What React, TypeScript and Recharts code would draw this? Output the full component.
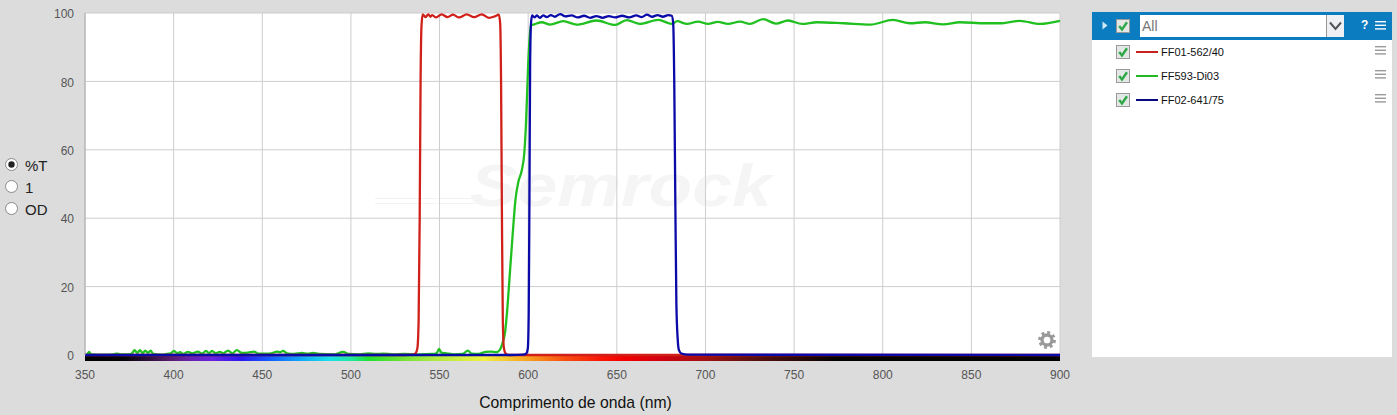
import React from "react";
import { LineChart, Line, XAxis, YAxis, CartesianGrid, ReferenceArea } from "recharts";

const xTicks = [350, 400, 450, 500, 550, 600, 650, 700, 750, 800, 850, 900];
const yTicks = [0, 20, 40, 60, 80, 100];
const xTitle = "Comprimento de onda (nm)";
const legendNames = ["FF01-562/40", "FF593-Di03", "FF02-641/75"];
const legendColors = ["#c8201a", "#22b822", "#0a0a80"];
const radioLabels = ["%T", "1", "OD"];

const redPoints: [number, number][] = [
  [350, 0], [530, 0], [535, 0.1], [536.5, 0.5], [537.5, 2], [538.2, 10], [538.8, 40], [539.3, 80], [539.8, 96],
  [540.5, 99.6], [542, 98.8], [543.7, 99.6], [544.8, 98.9], [545.9, 99.4], [548, 98.7], [551.2, 99.6], [554.5, 98.8],
  [557.6, 99.5], [561, 98.7], [565.3, 99.6], [569.5, 98.8], [573.8, 99.6], [578, 98.6], [581, 99], [583.4, 99.5],
  [584.2, 97], [584.7, 80], [585.2, 40], [585.7, 10], [586.3, 2], [587.3, 0.4], [589, 0], [900, 0],
];

const greenPoints: [number, number][] = [
  [350, 0.1], [351.2, 0.2], [352.3, 0.9], [353.4, 0.2], [360, 0.1], [366, 0.2], [368, 0.4], [370, 0.2], [375, 0.2],
  [376.5, 0.5], [378, 1.4], [379.5, 0.6], [381, 1.4], [382.5, 0.5], [384, 1.3], [385.5, 0.6], [387, 1.3], [388.5, 0.3],
  [393, 0.1], [397, 0.4], [398.5, 0.5], [400.2, 1.2], [402, 0.5], [403.6, 0.8], [405.5, 0.3], [408, 0.9], [410.5, 0.5],
  [413.7, 1], [416, 0.4], [418.3, 1.2], [420, 0.5], [421.6, 1.2], [423.8, 0.5], [426, 0.9], [428, 0.5], [430.7, 1.3],
  [433, 0.5], [435.7, 1.4], [438.5, 0.6], [442, 0.7], [445.3, 1], [448, 0.4], [452, 0.4], [455, 0.5], [458.3, 1], [460, 0.8],
  [461.7, 1.2], [464, 0.5], [468, 0.3], [472.4, 0.6], [475.5, 0.4], [478.6, 0.6], [482, 0.3], [491, 0.2], [495.5, 0.9],
  [499, 0.3], [505, 0.2], [509.6, 0.5], [514, 0.3], [518, 0.4], [524, 0.2], [530, 0.3], [538, 0.2], [546, 0.3], [548.5, 0.6],
  [549.7, 1.8], [551, 0.7], [554, 0.5], [558, 0.2], [563, 0.3], [566, 1.3], [568, 0.4], [572, 0.3], [576, 0.9], [579, 1],
  [582, 0.8], [584, 1.5], [585.6, 3.6], [587, 6.8], [588.3, 14], [589.8, 24.9], [591.3, 35.6], [592.8, 45.3], [594.5, 50.7],
  [596.4, 54], [597.8, 59], [598.8, 68], [600, 85], [601, 94], [601.6, 96.4], [603.5, 96.7], [607.6, 97.3], [612.3, 96.6],
  [619.8, 97.6], [627.4, 96.6], [638.6, 97.8], [649, 96.5], [655.6, 97.9], [663, 96.8], [673.4, 98], [681, 96.8], [684, 97.6],
  [689.6, 96.8], [695.8, 97.5], [701.4, 96.8], [707, 97.4], [712.7, 96.8], [719.5, 97.5], [725, 96.8], [732.5, 98.2],
  [739.8, 96.9], [746.6, 97.8], [754.5, 96.8], [763, 97.3], [778, 97], [793, 96.6], [805.8, 98], [815.4, 97], [823.8, 97.3],
  [834, 96.7], [843.6, 97.3], [857.7, 97], [866, 97], [877.4, 97.7], [888.7, 96.8], [900, 97.7],
];

const bluePoints: [number, number][] = [
  [350, 0], [590, 0], [597, 0.1], [599, 0.5], [599.8, 2], [600.3, 12], [600.7, 45], [601.1, 85], [601.6, 97],
  [602.2, 99.3], [603.5, 98.7], [605, 99.3], [606.5, 98.6], [608.5, 99.3], [610.5, 98.8], [612.8, 99.4], [615, 98.9],
  [618, 99.7], [621, 99], [624.5, 99.3], [628, 98.7], [631.5, 99.2], [635, 98.6], [638.5, 99.1], [642, 98.6], [645.5, 99.1],
  [649, 98.7], [653, 99.2], [657, 98.7], [661, 99.3], [664, 98.8], [667, 99.5], [670, 98.9], [673, 99.4], [676, 98.9], [679, 99.4],
  [681, 99.2], [681.8, 97], [682.4, 80], [683, 45], [683.6, 15], [684.3, 5], [685, 1.5], [686.5, 0.4], [690, 0.1], [900, 0],
];

const spectrumStops: [number, string][] = [
  [350, "#000000"], [372, "#050008"], [385, "#2a0f3a"], [398, "#5a1a6a"], [410, "#6a20b0"], [422, "#6a20e0"], [438, "#2a18f0"],
  [455, "#1060ff"], [472, "#10a8f8"], [488, "#18e0e8"], [500, "#20e8a0"], [510, "#20e030"], [525, "#60e030"], [545, "#a8e840"],
  [575, "#f0f040"], [600, "#f8a020"], [620, "#f85010"], [640, "#f81808"], [655, "#f00000"], [675, "#d00010"], [700, "#a01010"],
  [725, "#601010"], [750, "#300808"], [775, "#000000"], [900, "#000000"],
];

const toData = (pts: [number, number][]) => pts.map(([wl, t]) => ({ wl, t }));
const pct = (nm: number) => `${((nm - 350) / 550) * 100}%`;

const Check = ({ x, y }: { x: number; y: number }) => (
  <svg style={{ position: "absolute", left: x, top: y }} width={14} height={14}>
    <rect x={0.5} y={0.5} width={13} height={13} fill="#e4e8e4" stroke="#999" />
    <path d="M3.2 7 L6 10.5 L11 3.2" fill="none" stroke="#2fa84a" strokeWidth={2.4} />
  </svg>
);

const Burger = ({ x, y, color }: { x: number; y: number; color: string }) => (
  <svg style={{ position: "absolute", left: x, top: y }} width={11} height={9}>
    <rect x={0} y={0} width={11} height={1.4} fill={color} />
    <rect x={0} y={3.6} width={11} height={1.4} fill={color} />
    <rect x={0} y={7.2} width={11} height={1.4} fill={color} />
  </svg>
);

const abs = (left: number, top: number, width: number, height: number, extra: React.CSSProperties = {}): React.CSSProperties => ({
  position: "absolute", left, top, width, height, ...extra,
});

const sans = '"Liberation Sans", Arial, sans-serif';

export default function App() {
  return (
    <div style={{ position: "fixed", left: 0, top: 0, width: 1397, height: 415, background: "#dcdcdc", overflow: "hidden", fontFamily: sans }}>
      {/* plot background and watermark */}
      <div style={abs(85, 13, 975, 342, { background: "#fff" })} />
      <div style={{ position: "absolute", left: 470, top: 151, fontSize: 60, fontWeight: 700, fontStyle: "italic", color: "#f5f5f5", transform: "scaleX(1.19)", transformOrigin: "left center", whiteSpace: "nowrap" }}>Semrock</div>
      <div style={abs(375, 198, 100, 1, { background: "#f3f3f3" })} />
      <div style={abs(375, 203, 100, 1, { background: "#f3f3f3" })} />

      <div style={{ position: "absolute", left: 0, top: 0 }}>
        <LineChart width={1397} height={415} margin={{ top: 13, right: 337, bottom: 10, left: 45 }}>
          <defs>
            <linearGradient id="spectrum" x1="0" y1="0" x2="1" y2="0">
              {spectrumStops.map(([nm, c]) => (
                <stop key={nm} offset={pct(nm)} stopColor={c} />
              ))}
            </linearGradient>
          </defs>
          <CartesianGrid stroke="#cdcdcd" strokeWidth={1} />
          <XAxis
            type="number"
            dataKey="wl"
            domain={[350, 900]}
            ticks={xTicks}
            interval={0}
            height={50}
            tickLine={false}
            axisLine={false}
            tickMargin={9}
            tick={{ fontSize: 12, fill: "#555", fontFamily: sans }}
            label={{ value: xTitle, position: "insideBottom", offset: 0, dx: 3, dy: 3, style: { fontSize: 15.75, fill: "#111", fontFamily: sans } }}
          />
          <YAxis
            type="number"
            domain={[0, 100]}
            ticks={yTicks}
            interval={0}
            width={40}
            tickLine={false}
            axisLine={{ stroke: "#aaaaaa" }}
            tickMargin={5}
            tick={{ fontSize: 12, fill: "#555", fontFamily: sans, dy: 1 }}
          />
          <ReferenceArea x1={350} x2={900} y1={0} y2={-1.75} ifOverflow="visible" fill="url(#spectrum)" fillOpacity={1} stroke="none" />
          <Line data={toData(greenPoints)} dataKey="t" type="monotone" stroke="#20c020" strokeWidth={2.3} dot={false} isAnimationActive={false} />
          <Line data={toData(redPoints)} dataKey="t" type="monotone" stroke="#d0201a" strokeWidth={2.3} dot={false} isAnimationActive={false} />
          <Line data={toData(bluePoints)} dataKey="t" type="monotone" stroke="#0a0aa8" strokeWidth={2.3} dot={false} isAnimationActive={false} />
        </LineChart>
      </div>

      {/* gear */}
      <svg style={{ position: "absolute", left: 1037, top: 330 }} width={20} height={20} viewBox="0 0 22 22">
        <circle cx={11} cy={11} r={8} fill="none" stroke="#999" strokeWidth={3.6} strokeDasharray="3.1 3.18" />
        <circle cx={11} cy={11} r={5.5} fill="none" stroke="#999" strokeWidth={3.6} />
      </svg>

      {/* radios */}
      {radioLabels.map((label, i) => (
        <React.Fragment key={label}>
          <svg style={{ position: "absolute", left: 4, top: 157 + i * 22 }} width={15} height={15}>
            <circle cx={7.5} cy={7.5} r={6} fill="#fff" stroke="#8a8a8a" />
            {i === 0 && <circle cx={7.5} cy={7.5} r={3.2} fill="#222" />}
          </svg>
          <div style={{ position: "absolute", left: 25, top: 157 + i * 22, fontSize: 15, lineHeight: "17px", color: "#222" }}>{label}</div>
        </React.Fragment>
      ))}

      {/* legend panel */}
      <div style={abs(1092, 12, 300, 345, { background: "#fff" })} />
      <div style={abs(1092, 12, 300, 28, { background: "#0a7cbf" })} />
      <svg style={{ position: "absolute", left: 1102, top: 21 }} width={6} height={9}>
        <path d="M0.5 0.5 L5.5 4.5 L0.5 8.5 Z" fill="#cfe9f7" />
      </svg>
      <Check x={1116} y={19} />
      <div style={abs(1140, 15, 204, 22, { background: "#fff" })} />
      <div style={{ position: "absolute", left: 1142, top: 17, fontSize: 14, lineHeight: "18px", color: "#777" }}>All</div>
      <div style={abs(1326, 15, 18, 22, { background: "#eef0f4", borderLeft: "1px solid #999", boxSizing: "border-box" })} />
      <svg style={{ position: "absolute", left: 1328, top: 20 }} width={15} height={12}>
        <path d="M2 2.5 L7.5 9 L13 2.5" fill="none" stroke="#555" strokeWidth={2} />
      </svg>
      <div style={{ position: "absolute", left: 1361, top: 18, fontSize: 12, lineHeight: "15px", fontWeight: 700, color: "#fff" }}>?</div>
      <Burger x={1375} y={21} color="#fff" />

      {legendNames.map((name, i) => {
        const cy = 52 + i * 24;
        return (
          <React.Fragment key={name}>
            <Check x={1116} y={cy - 7} />
            <div style={abs(1136, cy - 1, 22, 2, { background: legendColors[i] })} />
            <div style={{ position: "absolute", left: 1161, top: cy - 7, fontSize: 11, lineHeight: "14px", color: "#111", whiteSpace: "nowrap" }}>{name}</div>
            <Burger x={1375} y={cy - 6} color="#999" />
          </React.Fragment>
        );
      })}
    </div>
  );
}
